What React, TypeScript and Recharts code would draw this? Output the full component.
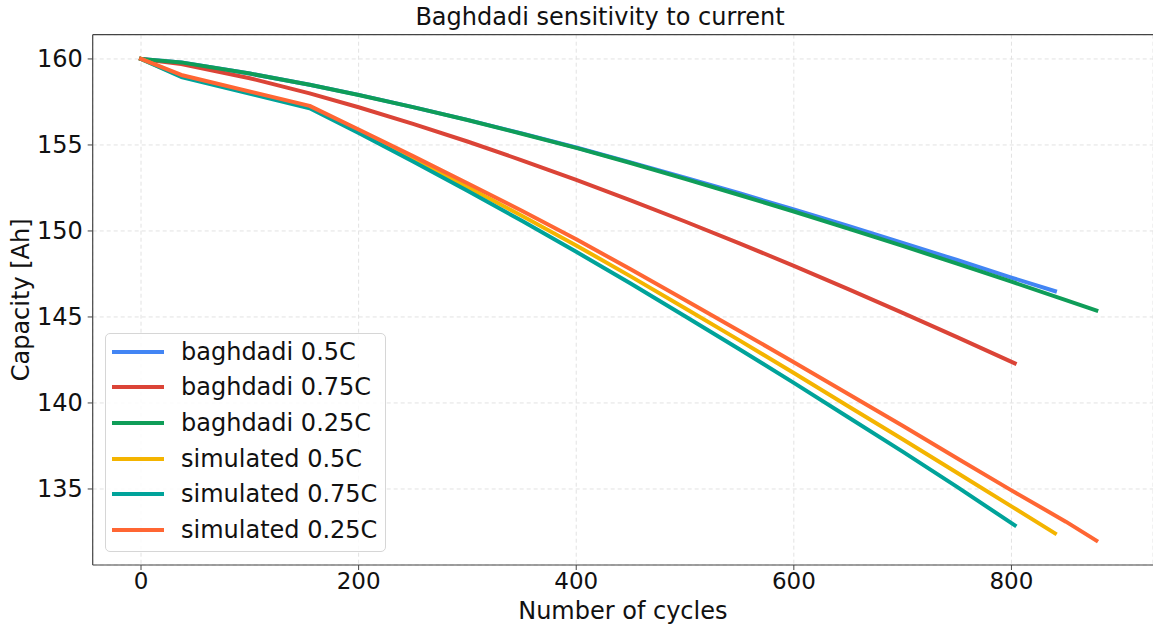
import React from 'react';
import { LineChart, Line, XAxis, YAxis, CartesianGrid, Legend, ReferenceLine, Label } from 'recharts';

const FONT = "'DejaVu Sans', 'Liberation Sans', sans-serif";

// ---- data (cycles / capacity in Ah) ----
const baghdadi05Cycles = [0, 37, 100, 155, 200, 250, 300, 350, 400, 450, 500, 550, 600, 650, 700, 750, 800, 840];
const baghdadi05Cap = [160, 159.8, 159.15, 158.5, 157.91, 157.2, 156.46, 155.67, 154.85, 153.99, 153.1, 152.19, 151.25, 150.29, 149.31, 148.31, 147.29, 146.5];

const baghdadi075Cycles = [0, 37, 100, 155, 200, 250, 300, 350, 400, 450, 500, 550, 600, 650, 700, 750, 803];
const baghdadi075Cap = [160, 159.7, 158.88, 158.0, 157.19, 156.23, 155.2, 154.11, 152.97, 151.78, 150.55, 149.28, 147.97, 146.62, 145.24, 143.83, 142.31];

const baghdadi025Cycles = [0, 37, 100, 155, 200, 250, 300, 350, 400, 450, 500, 550, 600, 650, 700, 750, 800, 850, 878];
const baghdadi025Cap = [160, 159.8, 159.15, 158.5, 157.9, 157.2, 156.45, 155.65, 154.83, 153.95, 153.03, 152.09, 151.13, 150.14, 149.13, 148.1, 147.05, 145.98, 145.38];

const simulated05Cycles = [0, 37, 155, 200, 250, 300, 350, 400, 450, 500, 550, 600, 650, 700, 750, 800, 840];
const simulated05Cap = [160, 159.0, 157.2, 155.78, 154.18, 152.56, 150.88, 149.16, 147.36, 145.51, 143.64, 141.74, 139.81, 137.89, 135.94, 133.99, 132.42];

const simulated075Cycles = [0, 37, 155, 200, 250, 300, 350, 400, 450, 500, 550, 600, 650, 700, 750, 803];
const simulated075Cap = [160, 158.95, 157.13, 155.69, 154.04, 152.34, 150.59, 148.79, 146.94, 145.04, 143.12, 141.17, 139.17, 137.17, 135.12, 132.89];

const simulated025Cycles = [0, 37, 155, 200, 250, 300, 350, 400, 450, 500, 550, 600, 650, 700, 750, 800, 850, 878];
const simulated025Cap = [160, 159.07, 157.27, 155.9, 154.35, 152.77, 151.17, 149.52, 147.77, 145.99, 144.19, 142.37, 140.52, 138.67, 136.79, 134.92, 133.1, 132.0];

const xTicks = [0, 200, 400, 600, 800];
const yTicks = [135, 140, 145, 150, 155, 160];
const xDomain = [-44.4, 930.1];
const yDomain = [130.58, 161.41];

const toPoints = (xs: number[], ys: number[]) => xs.map((x, i) => ({ x, y: ys[i] }));

const series = [
  { name: 'baghdadi 0.5C', color: '#4285F4', data: toPoints(baghdadi05Cycles, baghdadi05Cap) },
  { name: 'baghdadi 0.75C', color: '#DB4437', data: toPoints(baghdadi075Cycles, baghdadi075Cap) },
  { name: 'baghdadi 0.25C', color: '#0F9D58', data: toPoints(baghdadi025Cycles, baghdadi025Cap) },
  { name: 'simulated 0.5C', color: '#F4B400', data: toPoints(simulated05Cycles, simulated05Cap) },
  { name: 'simulated 0.75C', color: '#00A39A', data: toPoints(simulated075Cycles, simulated075Cap) },
  { name: 'simulated 0.25C', color: '#FF6633', data: toPoints(simulated025Cycles, simulated025Cap) },
];

const LegendBox = () => (
  <div
    style={{
      position: 'relative',
      width: 281,
      height: 219.6,
      boxSizing: 'border-box',
      border: '1px solid #d6d6d6',
      borderRadius: 5,
      background: 'rgba(255,255,255,0.85)',
      fontFamily: FONT,
    }}
  >
    {series.map((s, i) => (
      <div key={s.name}>
        <div
          style={{
            position: 'absolute',
            left: 6,
            top: 19 + 35.66 * i - 2 - 1,
            width: 52,
            height: 4,
            background: s.color,
          }}
        />
        <div
          style={{
            position: 'absolute',
            left: 75,
            top: 19 + 35.66 * i - 15 - 1,
            height: 30,
            lineHeight: '30px',
            fontSize: 24,
            color: '#111',
            whiteSpace: 'nowrap',
          }}
        >
          {s.name}
        </div>
      </div>
    ))}
  </div>
);

const YLabel = (props: any) => {
  const vb = props.viewBox || { x: 0, y: 34.7, width: 92.7, height: 530.3 };
  const cx = 29.5;
  const cy = vb.y + vb.height / 2;
  return (
    <text
      x={cx}
      y={cy}
      transform={`rotate(-90 ${cx} ${cy})`}
      textAnchor="middle"
      fontSize={24}
      fill="#111"
      fontFamily={FONT}
    >
      Capacity [Ah]
    </text>
  );
};

export default function App() {
  return (
    <div style={{ position: 'absolute', left: 0, top: 0, width: 1153, height: 625, background: '#fff' }}>
      <div
        style={{
          position: 'absolute',
          left: 0,
          width: 1200,
          top: 5,
          lineHeight: '24px',
          fontSize: 24,
          fontFamily: FONT,
          color: '#111',
          textAlign: 'center',
          whiteSpace: 'nowrap',
          zIndex: 2,
        }}
      >
        Baghdadi sensitivity to current
      </div>
      <LineChart
        width={1153}
        height={625}
        margin={{ top: 34.7, right: 0, left: 0, bottom: 0 }}
        style={{ fontFamily: FONT }}
      >
        <CartesianGrid stroke="#e2e2e2" strokeDasharray="4 3" strokeWidth={1} />
        <XAxis
          type="number"
          dataKey="x"
          domain={xDomain}
          ticks={xTicks}
          allowDataOverflow
          height={60}
          tickSize={5}
          tickMargin={3}
          stroke="#444"
          tick={{ fontSize: 23, fill: '#111', fontFamily: FONT }}
          tickLine={{ stroke: '#444' }}
          axisLine={{ stroke: '#444', strokeWidth: 1.2 }}
        >
          <Label value="Number of cycles" position="insideBottom" offset={6} fontSize={24} fill="#111" fontFamily={FONT} />
        </XAxis>
        <YAxis
          type="number"
          domain={yDomain}
          ticks={yTicks}
          allowDataOverflow
          width={92.7}
          tickSize={5}
          tickMargin={5}
          stroke="#444"
          tick={{ fontSize: 24, fill: '#111', fontFamily: FONT }}
          tickLine={{ stroke: '#444' }}
          axisLine={{ stroke: '#444', strokeWidth: 1.2 }}
        >
          <Label content={YLabel} />
        </YAxis>
        <ReferenceLine y={yDomain[1]} stroke="#444" strokeWidth={1.2} />
        {series.map((s) => (
          <Line
            key={s.name}
            data={s.data}
            dataKey="y"
            name={s.name}
            type="linear"
            stroke={s.color}
            strokeWidth={4}
            strokeLinecap="square"
            strokeLinejoin="round"
            dot={false}
            activeDot={false}
            isAnimationActive={false}
          />
        ))}
        <Legend
          layout="vertical"
          align="center"
          verticalAlign="middle"
          wrapperStyle={{ position: 'absolute', left: 105, top: 332.7, width: 281, height: 219.6 }}
          content={() => <LegendBox />}
        />
      </LineChart>
    </div>
  );
}
